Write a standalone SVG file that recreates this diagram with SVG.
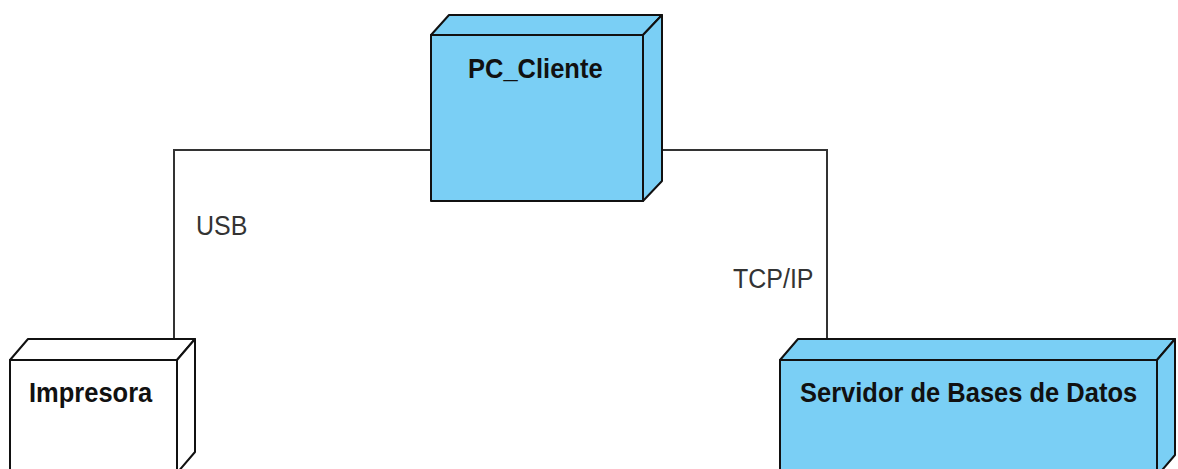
<svg xmlns="http://www.w3.org/2000/svg" width="1178" height="469" viewBox="0 0 1178 469">
<style>
.face{fill:#7acff5;stroke:#111;stroke-width:2;stroke-linejoin:round}
.white{fill:#fff}
.conn{fill:none;stroke:#333;stroke-width:2}
.name{font-family:"Liberation Sans",Arial,sans-serif;font-weight:bold;font-size:25.5px;fill:#111}
.lbl{font-family:"Liberation Sans",Arial,sans-serif;font-size:25px;fill:#333}
</style>
<rect width="1178" height="469" fill="#fff"/>
<g id="connectors">
<polyline class="conn" points="431,150 174,150 174,339"/>
<polyline class="conn" points="662,150 827,150 827,339"/>
<text class="lbl" transform="translate(196,235) scale(1,1.12)">USB</text>
<text class="lbl" transform="translate(733,288) scale(1,1.12)">TCP/IP</text>
</g>
<g id="pc_cliente">
<polygon class="face" points="431,35 449,15 662,15 643,35"/>
<polygon class="face" points="643,35 662,15 662,181 643,201"/>
<rect class="face" x="431" y="35" width="212" height="166"/>
<text class="name" transform="translate(468,78) scale(1,1.12)">PC_Cliente</text>
</g>
<g id="impresora">
<polygon class="face white" points="10,360 28,339 195,339 177,360"/>
<polygon class="face white" points="177,360 195,339 195,452 177,473"/>
<rect class="face white" x="10" y="360" width="167" height="120"/>
<text class="name" transform="translate(29,402) scale(1,1.12)">Impresora</text>
</g>
<g id="servidor">
<polygon class="face" points="780,360 798,339 1175,339 1157,360"/>
<polygon class="face" points="1157,360 1175,339 1175,455 1157,476"/>
<rect class="face" x="780" y="360" width="377" height="120"/>
<text class="name" transform="translate(800,402) scale(1,1.12)">Servidor de Bases de Datos</text>
</g>
</svg>
